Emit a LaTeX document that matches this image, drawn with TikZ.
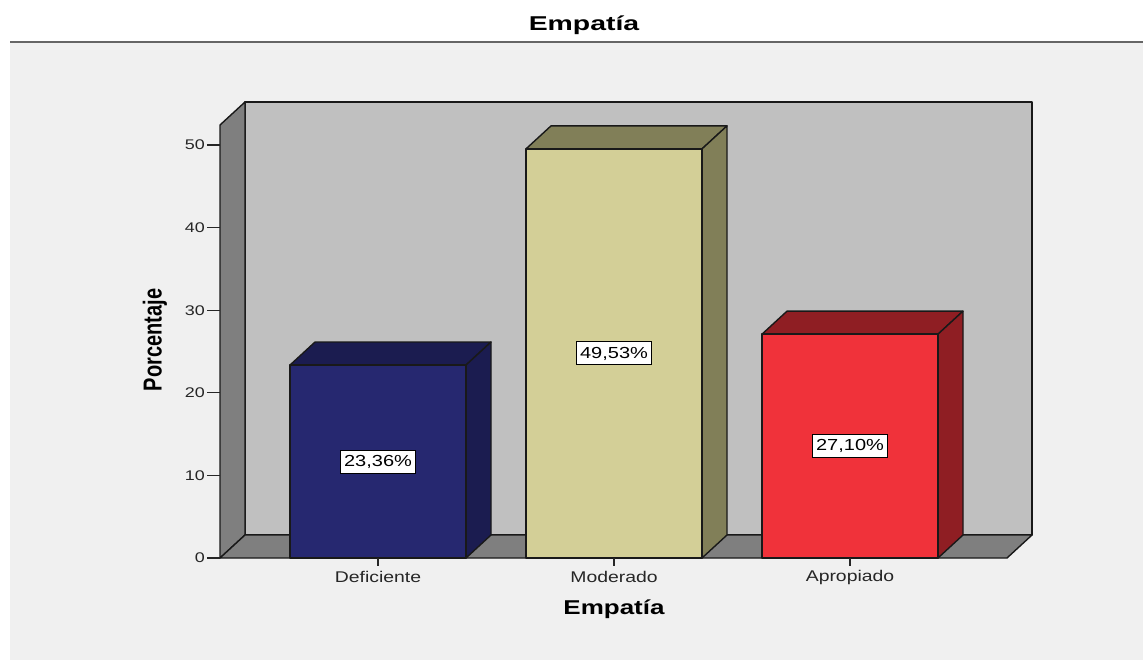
\documentclass[tikz,border=0pt]{standalone}
\usepackage{fontspec}
\setmainfont{Liberation Sans}
\usepackage{graphicx}

\definecolor{panelgray}{RGB}{240,240,240}
\definecolor{wallback}{RGB}{192,192,192}
\definecolor{wallside}{RGB}{127,127,127}
\definecolor{deffront}{RGB}{38,40,112}
\definecolor{defside}{RGB}{27,28,80}
\definecolor{modfront}{RGB}{211,207,151}
\definecolor{modside}{RGB}{129,127,88}
\definecolor{aprfront}{RGB}{240,50,58}
\definecolor{aprside}{RGB}{143,30,35}

\tikzset{
  edge/.style={draw=black!90, line width=1.4pt, line join=round},
  tickmark/.style={draw=black!85, line width=1.2pt},
  ticklabel/.style={font=\fontsize{14}{16}\selectfont, text=black!85, xscale=1.28, anchor=east, inner sep=0pt},
  catlabel/.style={font=\fontsize{15.5}{18}\selectfont, text=black!85, xscale=1.25, inner sep=0pt},
  charttitle/.style={font=\bfseries\fontsize{20}{24}\selectfont, xscale=1.42, inner sep=0pt},
  axistitle/.style={font=\bfseries\fontsize{20}{24}\selectfont, inner sep=0pt},
  valbox/.style={draw=black, fill=white, line width=1pt, font=\fontsize{16}{18}\selectfont,
    xscale=1.25, inner xsep=2.5pt, inner ysep=0pt, minimum height=23pt}
}

\begin{document}
\begin{tikzpicture}[x=1pt,y=-1pt]
  \useasboundingbox (0,0) rectangle (1143,669);
  \fill[white] (0,0) rectangle (1143,669);
  % chart panel
  \fill[panelgray] (10,42) rectangle (1143,660);
  \draw[line width=2pt, draw=black!60] (10,42) -- (1143,42);
  \node[charttitle] (title) at (584,25) {Empatía};

  % walls and floor
  \filldraw[edge, fill=wallback] (245,102) rectangle (1032,535);
  \filldraw[edge, fill=wallside] (220,125) -- (245,102) -- (245,535) -- (220,558) -- cycle;
  \filldraw[edge, fill=wallside] (220,558) -- (245,535) -- (1032,535) -- (1007,558) -- cycle;

  % y axis
  \foreach \v in {0,10,...,50} {
    \draw[tickmark] (207,558-8.26*\v) -- (220,558-8.26*\v);
    \node[ticklabel] (tick\v) at (205,558-8.26*\v) {\v};
  }
  \node[axistitle, rotate=90] (ytitle) at (155,340) {\scalebox{1}[1.3]{Porcentaje}};

  % bars
  \foreach \cx/\v/\fc/\dc/\pct/\cat/\id in {
      378/23.36/deffront/defside/{23,36\%}/Deficiente/def,
      614/49.53/modfront/modside/{49,53\%}/Moderado/mod,
      850/27.10/aprfront/aprside/{27,10\%}/Apropiado/apr} {
    \pgfmathsetmacro{\ytop}{558-8.26*\v}
    \filldraw[edge, fill=\dc] (\cx-88,\ytop) -- ++(25,-23) -- ++(176,0) -- ++(-25,23) -- cycle;
    \filldraw[edge, fill=\dc] (\cx+88,\ytop) -- ++(25,-23) -- (\cx+113,535) -- (\cx+88,558) -- cycle;
    \filldraw[edge, fill=\fc] (\cx-88,\ytop) rectangle (\cx+88,558);
    \node[valbox] (val-\id) at (\cx,{(558+\ytop)/2}) {\pct};
    \draw[tickmark] (\cx,558) -- (\cx,566);
    \node[catlabel] (cat-\id) at (\cx,577) {\cat};
  }
  \node[axistitle, xscale=1.3] (xtitle) at (614,609) {Empatía};
\end{tikzpicture}
\end{document}
